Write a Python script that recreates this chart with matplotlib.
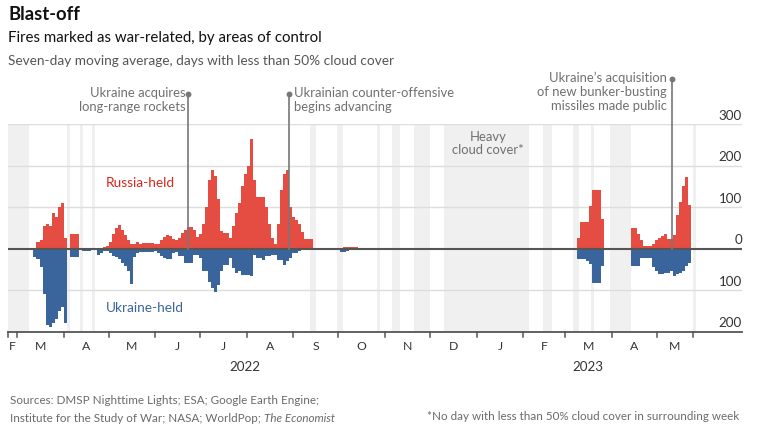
import matplotlib
matplotlib.use('Agg')
import matplotlib.pyplot as plt
from matplotlib import font_manager
from matplotlib.transforms import blended_transform_factory
import numpy as np
import pandas as pd

# ---------------- data ----------------
# two-day bins starting 2022-02-24, fires per day (seven-day moving average)
bin_start = '2022-02-24'
russia_held = ([0, 0, 0, 0, 0, 0, 0, 0, 0, 15,
                20, 55, 58, 55, 85, 75, 100, 110, 25, 0,
                35, 35, 35, 0, 0, 0, 0, 0, 0, 2,
                2, 4, 5, 15, 35, 50, 57, 45, 33, 20,
                12, 10, 15, 12, 14, 14, 14, 14, 12, 10,
                20, 28, 33, 30, 22, 21, 25, 38, 45, 53,
                52, 45, 28, 35, 60, 100, 165, 190, 175, 120,
                41, 38, 37, 25, 55, 85, 110, 150, 180, 200,
                265, 165, 125, 125, 125, 100, 60, 25, 10, 60,
                140, 180, 190, 100, 75, 68, 60, 40, 22, 22,
                22, 0, 0, 0, 0, 0, 0, 0, 0, 0,
                2, 3, 3, 4, 4, 3, 2, 1, 0, 0]
               + [0] * 60 +
               [0, 0, 0, 0, 1, 1, 1, 1, 1, 25,
                63, 63, 63, 103, 142, 142, 142, 70, 1, 1,
                0, 0, 0, 0, 0, 0, 0, 49, 49, 35,
                20, 5, 5, 5, 10, 21, 25, 30, 35, 23,
                23, 33, 81, 113, 150, 173, 105, 0])
ukraine_held = ([0, 0, 0, 0, 0, 0, 0, 3, 20, 25,
                 45, 110, 185, 190, 180, 170, 150, 140, 180, 0,
                 21, 21, 21, 0, 6, 6, 6, 0, 0, 15,
                 12, 5, 5, 10, 18, 20, 25, 35, 42, 55,
                 85, 20, 10, 8, 8, 8, 8, 8, 7, 10,
                 18, 22, 25, 25, 12, 8, 19, 19, 35, 35,
                 35, 15, 15, 23, 55, 55, 80, 96, 105, 88,
                 55, 40, 40, 23, 47, 59, 55, 63, 63, 63,
                 67, 15, 23, 23, 27, 19, 19, 15, 15, 27,
                 27, 40, 30, 23, 11, 11, 6, 4, 4, 4,
                 4, 0, 0, 0, 0, 0, 0, 0, 0, 0,
                 8, 8, 6, 4, 3, 2, 2, 1, 0, 0]
                + [0] * 60 +
                [0, 0, 0, 0, 0, 0, 0, 0, 0, 25,
                 25, 25, 31, 38, 82, 82, 82, 41, 2, 2,
                 0, 0, 0, 0, 0, 0, 0, 43, 43, 43,
                 22, 22, 22, 22, 45, 55, 62, 62, 59, 59,
                 55, 67, 62, 58, 55, 43, 35, 0])

# periods with heavy cloud cover
cloud_start = ['2022-02-23', '2022-04-03', '2022-04-12', '2022-04-20', '2022-09-12',
               '2022-09-30', '2022-10-27', '2022-11-06', '2022-11-20', '2022-12-10',
               '2023-02-14', '2023-03-06', '2023-03-18', '2023-03-31', '2023-05-25']
cloud_end = ['2022-03-09', '2022-04-05', '2022-04-14', '2022-04-22', '2022-09-16',
             '2022-10-04', '2022-10-29', '2022-11-11', '2022-12-01', '2023-02-05',
             '2023-02-20', '2023-03-10', '2023-03-20', '2023-04-14', '2023-05-27']

event_dates = ['2022-06-23', '2022-08-29', '2023-05-11']
event_labels = ['Ukraine acquires\nlong-range rockets',
                'Ukrainian counter-offensive\nbegins advancing',
                'Ukraine\u2019s acquisition\nof new bunker-busting\nmissiles made public']

data_start, data_end = '2022-02-23', '2023-05-25'
month_labels = ['F', 'M', 'A', 'M', 'J', 'J', 'A', 'S', 'O', 'N', 'D', 'J', 'F', 'M', 'A', 'M']
y_ticks = [300, 200, 100, 0, -100, -200]

# ---------------- style ----------------
names = {f.name for f in font_manager.fontManager.ttflist}
MAIN = 'Lato' if 'Lato' in names else 'DejaVu Sans'
COND = 'Liberation Sans Narrow' if 'Liberation Sans Narrow' in names else None
plt.rcParams['font.family'] = [MAIN, 'DejaVu Sans']

RED = '#e64d42'
BLUE = '#3a659c'
RED_TXT = '#d7281c'
BLUE_TXT = '#3a659c'
GREY_TXT = '#707070'
SHADE = '#f0f0f0'
GRID = '#dddddd'
AXIS = '#555555'

W, H = 764, 443
fig = plt.figure(figsize=(W / 100, H / 100), dpi=100)
fig.patch.set_facecolor('white')
ax = fig.add_axes([8 / W, 1 - 331.5 / H, 734 / W, 207.5 / H])

ref = pd.Timestamp('2022-03-01')
def day(s):
    return (pd.Timestamp(s) - ref).days

ax.set_xlim(-6, 482.7)
ax.set_ylim(-200, 300)
for s in ax.spines.values():
    s.set_visible(False)
ax.set_xticks([])
ax.set_yticks([])

# cloud shading
for a, b in zip(cloud_start, cloud_end):
    ax.axvspan(day(a), day(b), color=SHADE, lw=0, zorder=0)

# gridlines
for v in y_ticks:
    if v not in (0, -200):
        ax.axhline(v, color=GRID, lw=1, zorder=1)

# bars
dates = pd.date_range(bin_start, periods=len(russia_held), freq='2D')
xs = np.array([(d - ref).days + 1 for d in dates])
r = np.array(russia_held, dtype=float)
u = np.array(ukraine_held, dtype=float)
ax.bar(xs[r > 0], r[r > 0], width=2.05, color=RED, lw=0, zorder=2)
ax.bar(xs[u > 0], -u[u > 0], width=2.05, color=BLUE, lw=0, zorder=2)

# zero line and bottom axis
ax.axhline(0, color=AXIS, lw=1.5, zorder=4)
ax.axhline(-200, color=AXIS, lw=1.3, zorder=4, clip_on=False)

# event lines
tops = [372, 372, 409]
for dstr, top in zip(event_dates, tops):
    x = day(dstr)
    ax.plot([x, x], [0, top], color='#777777', lw=1.2, zorder=5, clip_on=False)
    ax.plot([x], [top], 'o', color='#777777', ms=3.2, zorder=5, clip_on=False)

def fx(px):
    return px / W
def fy(py):
    return 1 - py / H

ann = dict(color=GREY_TXT, fontsize=9.4, linespacing=1.18)
fig.text(fx(186), fy(100), event_labels[0], ha='right', va='center', **ann)
fig.text(fx(294), fy(100), event_labels[1], ha='left', va='center', **ann)
fig.text(fx(667), fy(92), event_labels[2], ha='right', va='center', multialignment='right', **ann)
fig.text(fx(488), fy(143.5), 'Heavy\ncloud cover*', ha='center', va='center', **ann)

fig.text(fx(106), fy(183), 'Russia-held', color=RED_TXT, fontsize=9.8, ha='left', va='center')
fig.text(fx(106), fy(308), 'Ukraine-held', color=BLUE_TXT, fontsize=9.8, ha='left', va='center')

# y labels (above their gridlines)
for v in y_ticks:
    py = 248.7 - v * 0.415
    fig.text(fx(742), fy(py - 8.5), f'{abs(v)}', ha='right', va='center', fontsize=9.6, color='#333333')

# x ticks
tick_days = [day(data_start)] + [day(d) for d in pd.date_range('2022-03-01', '2023-05-01', freq='MS')] + [day(data_end)]
trans = blended_transform_factory(ax.transData, fig.transFigure)
for t in tick_days:
    ax.plot([t, t], [-200, -214], color=AXIS, lw=1.1, clip_on=False, zorder=4)
for i, lab in enumerate(month_labels):
    a, b = tick_days[i], tick_days[i + 1]
    ax.text((a + b) / 2, fy(346), lab, transform=trans, ha='center', va='center',
            fontsize=8.8, color='#333333')
ax.text(day('2022-07-31'), fy(367), '2022', transform=trans, ha='center', va='center', fontsize=9.6, color='#333333')
ax.text(day('2023-03-16'), fy(367), '2023', transform=trans, ha='center', va='center', fontsize=9.6, color='#333333')

# titles
fig.text(fx(8), fy(14), 'Blast-off', fontsize=13.3, fontweight='bold', color='#111111', ha='left', va='center')
fig.text(fx(8), fy(38), 'Fires marked as war-related, by areas of control', fontsize=10.8, color='#111111', ha='left', va='center')
fig.text(fx(8), fy(61), 'Seven-day moving average, days with less than 50% cloud cover', fontsize=9.8, color='#555555', ha='left', va='center')

# footer
if COND:
    foot = dict(fontsize=9.5, color='#6a6a6a', ha='left', va='center', family=[COND, 'DejaVu Sans'])
    econ = '$\\it{The\\ Economist}$'
else:
    foot = dict(fontsize=8.4, color='#6a6a6a', ha='left', va='center')
    econ = '$\\it{The\\ Economist}$'
fig.text(fx(10), fy(400), 'Sources: DMSP Nighttime Lights; ESA; Google Earth Engine;', **foot)
t2 = fig.text(fx(10), fy(418), 'Institute for the Study of War; NASA; WorldPop; ', **foot)
fig.canvas.draw()
bb = t2.get_window_extent()
fig.text(bb.x1 / W, fy(418), 'The Economist', style='italic', **foot)
fig.text(fx(427), fy(417), '*No day with less than 50% cloud cover in surrounding week', **foot)

fig.savefig('out.png', dpi=100, facecolor='white')
